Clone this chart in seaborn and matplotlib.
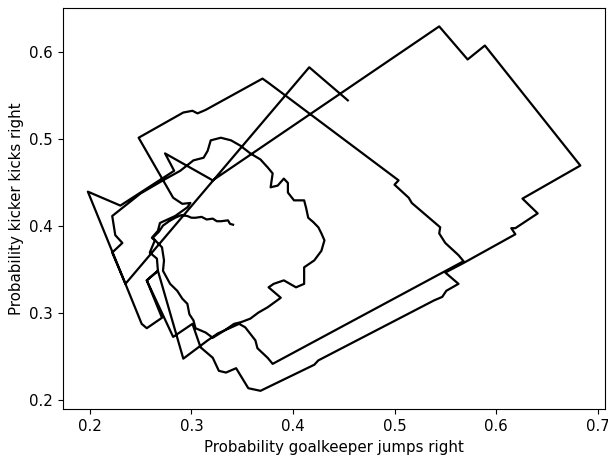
# imports
import pandas as pd
import numpy as np
import matplotlib
matplotlib.use("Agg")
import matplotlib.pyplot as plt
import seaborn as sns

# trajectory (goalkeeper x, kicker y), in order
# start -> first jumps
x_start = [0.454, 0.416, 0.235, 0.198, 0.230, 0.283, 0.274, 0.321]
y_start = [0.544, 0.582, 0.333, 0.439, 0.423, 0.463, 0.483, 0.452]

# first (largest) loop
x_loop1 = [0.544, 0.572, 0.589, 0.683, 0.626, 0.641, 0.619, 0.615, 0.619, 0.568,
           0.550, 0.563, 0.551, 0.547, 0.539, 0.425, 0.421, 0.368, 0.356, 0.344,
           0.334, 0.327, 0.321, 0.309, 0.301, 0.282, 0.256, 0.267, 0.266, 0.259,
           0.264, 0.261, 0.267, 0.269, 0.284, 0.296, 0.299, 0.291, 0.282]
y_loop1 = [0.629, 0.591, 0.607, 0.469, 0.431, 0.414, 0.397, 0.397, 0.390, 0.357,
           0.346, 0.333, 0.325, 0.318, 0.314, 0.245, 0.240, 0.210, 0.213, 0.236,
           0.231, 0.233, 0.248, 0.260, 0.287, 0.272, 0.337, 0.348, 0.362, 0.369,
           0.383, 0.386, 0.394, 0.403, 0.411, 0.421, 0.426, 0.425, 0.432]

# second loop
x_loop2 = [0.248, 0.292, 0.301, 0.306, 0.314, 0.370, 0.376, 0.448, 0.504, 0.500,
           0.514, 0.517, 0.545, 0.544, 0.550, 0.563, 0.568, 0.380, 0.375, 0.365,
           0.363, 0.353, 0.347, 0.326, 0.316, 0.292, 0.267, 0.256, 0.271, 0.256,
           0.251]
y_loop2 = [0.501, 0.530, 0.532, 0.529, 0.533, 0.569, 0.564, 0.501, 0.452, 0.447,
           0.432, 0.426, 0.398, 0.391, 0.380, 0.366, 0.359, 0.241, 0.248, 0.259,
           0.268, 0.283, 0.287, 0.276, 0.268, 0.247, 0.348, 0.337, 0.294, 0.282,
           0.287]

# last, noisy loop towards the end point
x_loop3 = [0.235, 0.222, 0.232, 0.225, 0.222, 0.250, 0.272, 0.289, 0.302, 0.312,
           0.314, 0.316, 0.319, 0.329, 0.339, 0.348, 0.358, 0.368, 0.375, 0.380,
           0.378, 0.385, 0.391, 0.395, 0.395, 0.401, 0.411, 0.413, 0.415, 0.420,
           0.425, 0.428, 0.431, 0.428, 0.421, 0.411, 0.411, 0.403, 0.391, 0.381,
           0.376, 0.388, 0.375, 0.366, 0.358, 0.349, 0.342, 0.332, 0.321, 0.314,
           0.304, 0.302, 0.298, 0.296, 0.291, 0.286, 0.279, 0.272, 0.273, 0.271,
           0.266, 0.262, 0.268, 0.272, 0.278, 0.284, 0.290, 0.296, 0.300, 0.304,
           0.310, 0.315, 0.321, 0.325, 0.329, 0.336, 0.338, 0.341]
y_loop3 = [0.333, 0.369, 0.380, 0.389, 0.411, 0.437, 0.452, 0.463, 0.475, 0.478,
           0.482, 0.486, 0.498, 0.501, 0.498, 0.492, 0.483, 0.476, 0.467, 0.460,
           0.444, 0.446, 0.454, 0.449, 0.438, 0.429, 0.429, 0.420, 0.409, 0.404,
           0.398, 0.391, 0.383, 0.371, 0.360, 0.352, 0.333, 0.329, 0.337, 0.333,
           0.329, 0.317, 0.306, 0.300, 0.293, 0.289, 0.287, 0.279, 0.271, 0.277,
           0.282, 0.291, 0.298, 0.310, 0.316, 0.325, 0.333, 0.348, 0.360, 0.375,
           0.381, 0.386, 0.393, 0.400, 0.405, 0.409, 0.412, 0.411, 0.409, 0.409,
           0.410, 0.407, 0.408, 0.405, 0.405, 0.406, 0.402, 0.401]

xs = x_start + x_loop1 + x_loop2 + x_loop3
ys = y_start + y_loop1 + y_loop2 + y_loop3
df = pd.DataFrame({"step": np.arange(len(xs)), "x": xs, "y": ys})

# slightly larger text than the defaults
plt.rcParams["font.size"] = 10.8
plt.rcParams["xtick.major.size"] = 3.8
plt.rcParams["ytick.major.size"] = 3.8

# trajectory plot
fig, ax = plt.subplots(figsize=(6.08, 4.55), dpi=100)
sns.lineplot(data=df, x="x", y="y", sort=False, estimator=None,
             color="black", linewidth=1.6, ax=ax)
ax.set_xlabel("Probability goalkeeper jumps right")
ax.set_ylabel("Probability kicker kicks right")
fig.subplots_adjust(left=0.104, right=0.995, top=0.982, bottom=0.101)
plt.savefig("out.png", dpi=100)
